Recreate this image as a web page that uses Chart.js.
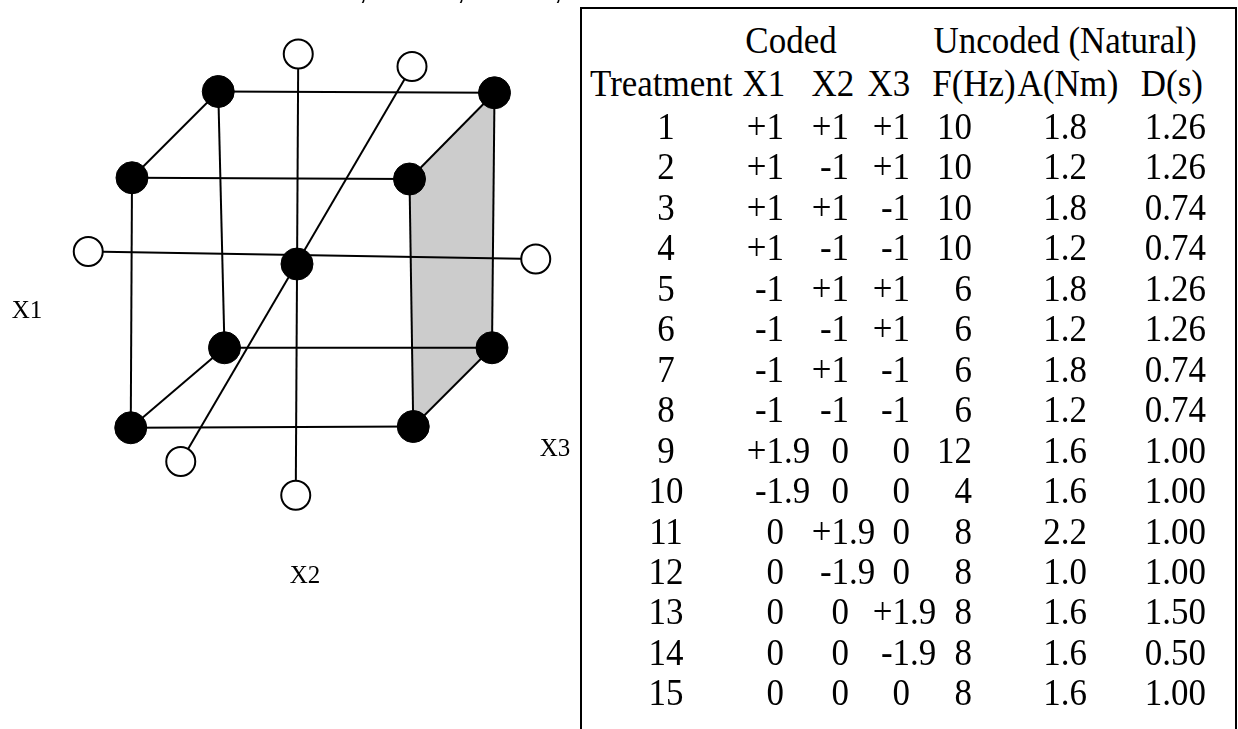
<!DOCTYPE html>
<html lang="en">
<head>
  <meta charset="UTF-8">
  <title>Central composite design</title>
  <script src="https://cdn.jsdelivr.net/npm/chart.js"></script>
  <style>
    body { margin: 0; background: #fff; }
    #pagina {
      position: relative; width: 1238px; height: 729px; overflow: hidden;
      font-family: "Liberation Serif", "Times New Roman", serif; color: #000;
    }
    #cubo { position: absolute; left: 0; top: 0; }
    #tabela {
      position: absolute; left: 580px; top: 7px; width: 657px; height: 800px;
      border: 2px solid #000; box-sizing: border-box;
    }
    .txt { position: absolute; white-space: nowrap; font-size: 38px; line-height: 40px; height: 40px; }
    .eixo { position: absolute; white-space: nowrap; font-size: 25px; line-height: 30px; width: 60px; text-align: center; }
    .corte { position: absolute; font-family: "Liberation Sans", sans-serif; font-size: 30px; line-height: 30px; }
  </style>
</head>
<body>
<div id="pagina">
  <canvas id="cubo" width="580" height="729"></canvas>
  <div id="tabela"></div>
</div>

<script>
  // ---- table data (coded and natural levels) ----
  const treatment = [1, 2, 3, 4, 5, 6, 7, 8, 9, 10, 11, 12, 13, 14, 15];
  const codedX1 = [1, 1, 1, 1, -1, -1, -1, -1, 1.9, -1.9, 0, 0, 0, 0, 0];
  const codedX2 = [1, -1, 1, -1, 1, -1, 1, -1, 0, 0, 1.9, -1.9, 0, 0, 0];
  const codedX3 = [1, 1, -1, -1, 1, 1, -1, -1, 0, 0, 0, 0, 1.9, -1.9, 0];
  const freqHz = [10, 10, 10, 10, 6, 6, 6, 6, 12, 4, 8, 8, 8, 8, 8];
  const ampNm = [1.8, 1.2, 1.8, 1.2, 1.8, 1.2, 1.8, 1.2, 1.6, 1.6, 2.2, 1.0, 1.6, 1.6, 1.6];
  const durS = [1.26, 1.26, 0.74, 0.74, 1.26, 1.26, 0.74, 0.74, 1.00, 1.00, 1.00, 1.00, 1.50, 0.50, 1.00];

  // ---- cube sketch: projected positions of the design points ----
  // corners: front-top-left, front-top-right, front-bottom-left, front-bottom-right,
  //          back-top-left, back-top-right, back-bottom-left, back-bottom-right
  const cornerU = [-1.32, 0.90, -1.33, 0.93, -0.63, 1.58, -0.58, 1.56];
  const cornerV = [0.69, 0.68, -1.31, -1.30, 1.38, 1.37, -0.67, -0.67];
  // axial (star) points: left, right, top, bottom, back, front
  const axialU = [-1.67, 1.91, 0.01, -0.01, 0.92, -0.93];
  const axialV = [0.10, 0.04, 1.68, -1.85, 1.58, -1.58];
  const centerU = [0];
  const centerV = [0];

  const cubeEdges = [[0, 1], [2, 3], [4, 5], [6, 7], [0, 2], [1, 3], [4, 6], [5, 7], [0, 4], [1, 5], [2, 6], [3, 7]];
  const axisLines = [[0, 1], [2, 3], [4, 5]];
  const shadedFace = [1, 5, 7, 3, 1];

  const corners = cornerU.map((u, i) => ({ x: u, y: cornerV[i] }));
  const axial = axialU.map((u, i) => ({ x: u, y: axialV[i] }));
  const center = centerU.map((u, i) => ({ x: u, y: centerV[i] }));

  const linha = (pts) => ({
    data: pts, showLine: true, pointRadius: 0, borderColor: '#000', borderWidth: 2, fill: false, order: 1
  });

  const datasets = [
    { label: 'center', data: center, pointRadius: 16, pointBackgroundColor: '#000', pointBorderColor: '#000', pointBorderWidth: 1, order: 0 },
    { label: 'factorial', data: corners, pointRadius: 16, pointBackgroundColor: '#000', pointBorderColor: '#000', pointBorderWidth: 1, order: 0 },
    { label: 'axial', data: axial, pointRadius: 14.5, pointBackgroundColor: '#fff', pointBorderColor: '#000', pointBorderWidth: 2, order: 0 }
  ];
  cubeEdges.forEach(([a, b]) => datasets.push(linha([corners[a], corners[b]])));
  axisLines.forEach(([a, b]) => datasets.push(linha([axial[a], axial[b]])));
  datasets.push({
    label: 'face', data: shadedFace.map(i => corners[i]), showLine: true, pointRadius: 0,
    borderWidth: 0, borderColor: 'rgba(0,0,0,0)', backgroundColor: '#cccccc', fill: 'shape', order: 2
  });

  new Chart(document.getElementById('cubo').getContext('2d'), {
    type: 'scatter',
    data: { datasets: datasets },
    options: {
      responsive: false,
      devicePixelRatio: 1,
      animation: false,
      layout: { padding: 0, autoPadding: false },
      scales: {
        x: { type: 'linear', display: false, min: -2.376, max: 2.264 },
        y: { type: 'linear', display: false, min: -3.72, max: 2.112 }
      },
      plugins: { legend: { display: false }, tooltip: { enabled: false } }
    }
  });

  // ---- labels and table text ----
  const pagina = document.getElementById('pagina');
  const APERTO = 'scaleX(0.92)';
  function texto(str, cls, left, top, extra) {
    const s = document.createElement('span');
    s.className = cls;
    s.textContent = str;
    s.style.left = left + 'px';
    s.style.top = top + 'px';
    if (extra) Object.assign(s.style, extra);
    pagina.appendChild(s);
    return s;
  }
  const centro = (str, cx, cy) => texto(str, 'txt', cx - 150, cy - 20,
    { width: '300px', textAlign: 'center', transform: APERTO, transformOrigin: '50% 50%' });
  const direita = (str, rx, cy) => texto(str, 'txt', rx - 200, cy - 20,
    { width: '200px', textAlign: 'right', transform: APERTO, transformOrigin: '100% 50%' });
  const esquerda = (str, lx, cy) => texto(str, 'txt', lx, cy - 20,
    { transform: APERTO, transformOrigin: '0 50%' });
  function decimal(str, ax, cy) {
    const partes = str.split('.');
    direita(partes[0], ax, cy);
    if (partes.length > 1) esquerda('.' + partes[1], ax, cy);
  }
  const sinal = (v) => (v > 0 ? '+' + v : String(v));

  texto('X1', 'eixo', -3, 295);
  texto('X2', 'eixo', 275, 560);
  texto('X3', 'eixo', 525, 433);
  [363, 461, 558].forEach(x => texto(',', 'corte', x - 4, -26));

  centro('Coded', 791, 40);
  centro('Uncoded (Natural)', 1065, 40);
  esquerda('Treatment', 590, 83);
  centro('X1', 764, 83);
  centro('X2', 833, 83);
  centro('X3', 889, 83);
  centro('F(Hz)', 974, 83);
  centro('A(Nm)', 1068, 83);
  direita('D(s)', 1203, 83);

  treatment.forEach((t, i) => {
    const cy = 126 + 40.45 * i;
    centro(String(t), 666, cy);
    decimal(sinal(codedX1[i]), 784, cy);
    decimal(sinal(codedX2[i]), 849, cy);
    decimal(sinal(codedX3[i]), 910, cy);
    direita(String(freqHz[i]), 972, cy);
    direita(ampNm[i].toFixed(1), 1087, cy);
    direita(durS[i].toFixed(2), 1206, cy);
  });
</script>
</body>
</html>
